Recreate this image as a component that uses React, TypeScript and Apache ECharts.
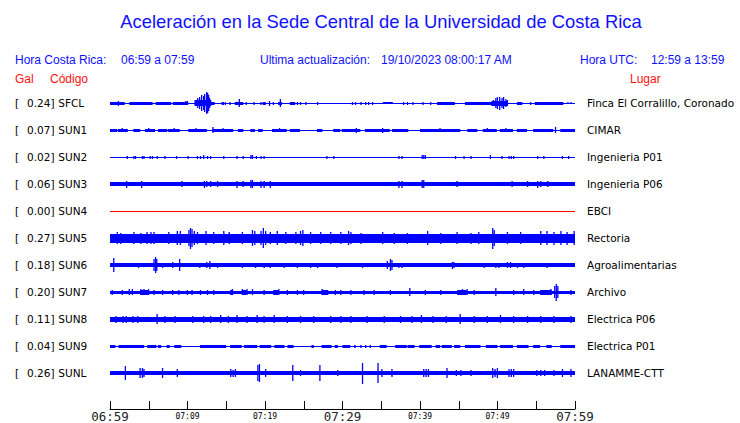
import React, { useEffect, useRef } from 'react';
import * as echarts from 'echarts';

// ---- station metadata ----
const CODES = ['SFCL', 'SUN1', 'SUN2', 'SUN3', 'SUN4', 'SUN5', 'SUN6', 'SUN7', 'SUN8', 'SUN9', 'SUNL'];
const GAL = [0.24, 0.07, 0.02, 0.06, 0.0, 0.27, 0.18, 0.2, 0.11, 0.04, 0.26];
const PLACES = [
  'Finca El Corralillo, Coronado', 'CIMAR', 'Ingenieria P01', 'Ingenieria P06', 'EBCI', 'Rectoria',
  'Agroalimentarias', 'Archivo', 'Electrica P06', 'Electrica P01', 'LANAMME-CTT',
];
// x-axis: minutes after 06:59; labels every 10 minutes
const TIME_LABELS = ['06:59', '07:09', '07:19', '07:29', '07:39', '07:49', '07:59'];

// ---- envelope data (relative amplitude, minutes since 06:59) ----
// continuous background level per trace
const BASE = [0.5, 0.5, 0.5, 2, 0.5, 4.5, 2, 1.5, 2.5, 0.5, 2];

// segments: [startMin, endMin, amplitude]
const SEG_SFCL = [
  [0, 1.9, 1.5], [2.5, 5.5, 1.5], [5.9, 7.9, 1.5], [8.1, 10.1, 1.5], [10.9, 12.9, 3], [12.9, 13.5, 1.5],
  [14.4, 14.7, 1.5], [16.1, 17.2, 1.5], [19.7, 20.1, 1.5], [21.7, 22.2, 1.5], [23.2, 23.9, 1.5],
  [35.2, 36.5, 1], [42.2, 44.5, 1.5], [45.8, 49.3, 1.5], [49.2, 51.3, 2.5], [52.5, 53.2, 1.5], [54.8, 58.5, 1.5],
];
const SEG_SUN1 = [
  [0, 0.9, 1.5], [1.0, 2.3, 1.5], [3.0, 3.9, 1.5], [4.5, 5.8, 1.5], [6.2, 7.4, 1.5], [7.5, 9.0, 1.5], [10.1, 12.5, 1.5],
  [13.2, 15.9, 1.5], [16.5, 17.2, 1.5], [18.1, 18.7, 1.5], [19.1, 19.7, 1.5], [20.9, 22.8, 1.5], [23.2, 24.5, 1.5],
  [26.7, 27.4, 1.5], [28.8, 29.7, 1.5], [29.9, 32.3, 1.5], [32.9, 36.1, 1.5], [36.4, 38.5, 1.5], [40.0, 45.2, 1.5],
  [46.1, 47.4, 1.5], [48.1, 49.9, 1.5], [50.3, 52.0, 1.5], [52.5, 53.8, 1.5], [54.6, 57.2, 1.5], [58.1, 60, 1.5],
];
const SEG_SUN7 = [
  [3.9, 4.9, 2.5], [15.5, 15.9, 2.5], [17.0, 17.6, 2.5], [21.1, 21.7, 2.5], [27.3, 28.0, 2.5],
  [44.8, 46.0, 2.5], [55.5, 57.0, 2.5],
];
const SEG_SUN9 = [
  [0, 0.7, 1.5], [1.1, 4.4, 1.5], [4.8, 6.0, 1.5], [6.2, 6.6, 1.5], [7.3, 7.7, 1.5], [8.3, 9.2, 1.5],
  [11.6, 15.0, 1.5], [15.5, 17.0, 1.5], [17.3, 19.0, 1.5], [19.3, 20.8, 1.5], [21.2, 22.5, 1.5],
  [22.9, 23.7, 1.5], [26.0, 26.3, 1.5], [27.3, 28.6, 1.5], [29.0, 29.4, 1.5], [30.0, 31.0, 1.5],
  [31.5, 31.7, 1.5], [34.8, 35.7, 1.5], [36.8, 38.3, 1.5], [38.4, 39.3, 1.5], [39.9, 41.5, 1.5],
  [42.0, 42.6, 1.5], [42.8, 44.1, 1.5], [44.4, 45.2, 1.5], [45.8, 47.8, 1.5], [48.5, 50.0, 1.5],
  [50.3, 52.0, 1.5], [52.5, 54.0, 1.5], [54.6, 55.5, 1.5], [56.3, 57.0, 1.5], [58.1, 60, 1.5],
];

// spikes: [minute, amplitude]
const SPK_SFCL = [
  [1.0, 2.5], [9.7, 2], [9.9, 2], [10.97, 3], [11.23, 5], [11.48, 6], [11.74, 8], [12.0, 7], [12.13, 9],
  [12.39, 11], [12.52, 10], [12.65, 8], [12.77, 5], [12.9, 3], [14.8, 1.5], [15.4, 1.5], [16.6, 4],
  [17.5, 1.5], [18.5, 1.5], [19.4, 1.5], [20.5, 2.5], [21.0, 1.5], [21.9, 4], [24.1, 1.5], [24.5, 1.5],
  [25.2, 1.5], [26.7, 1.5], [31.2, 1.5], [31.6, 1.5], [32.3, 1.5], [32.9, 1.5], [33.3, 1.5], [33.8, 1.5],
  [37.8, 1.5], [38.3, 1.5], [39.0, 1.5], [40.3, 1.5], [41.3, 1.5], [49.4, 3], [49.7, 5], [49.9, 6],
  [50.2, 6.5], [50.5, 5], [50.7, 6], [51.0, 4], [51.2, 3], [54.2, 1.5], [59.0, 1], [59.4, 1],
];
const SPK_SUN1 = [
  [1.5, 2], [4.9, 2], [8.2, 2], [11.0, 2], [13.2, 3], [14.5, 2], [21.8, 2], [31.7, 2.5], [35.1, 2.5],
  [42.5, 2], [48.6, 2], [51.0, 2], [57.4, 3],
];
const SPK_SUN2 = [
  [2.15, 1.5], [3.0, 1.5], [3.2, 1.5], [4.1, 1.5], [4.3, 1.5], [5.1, 1.5], [5.4, 1.5], [6.0, 1.5], [7.0, 1.5],
  [8.5, 1.5], [10.0, 1.5], [11.2, 1.5], [11.6, 1.5], [12.0, 2], [12.5, 1.5], [12.9, 1.5], [14.6, 1.5],
  [16.3, 1.5], [17.1, 1.5], [18.1, 2], [18.3, 2], [18.8, 1.5], [19.4, 1.5], [19.8, 1.5], [27.9, 1.5],
  [28.8, 1.5], [37.2, 1.5], [37.6, 1.5], [40.2, 2], [40.4, 2], [40.6, 2], [44.5, 1.5], [45.6, 1.5],
  [46.5, 1.5], [49.0, 2], [50.5, 1.5], [51.4, 1.5], [51.7, 1.5], [52.0, 1.5], [55.1, 1.5], [55.9, 1.5],
  [58.3, 1.5], [59.1, 1.5],
];
const SPK_SUN3 = [
  [2.06, 3.5], [4.0, 3.5], [9.2, 3], [12.1, 3.5], [12.4, 3], [12.9, 3], [13.8, 3], [16.3, 3.5], [17.1, 3],
  [18.1, 4], [18.3, 4], [19.4, 3.5], [19.8, 3.5], [20.6, 3.5], [37.2, 3.5], [37.6, 3.5], [40.2, 4],
  [40.4, 4], [44.7, 3], [51.8, 3], [53.8, 3], [55.1, 3.5], [55.5, 3], [56.4, 3],
];
const SPK_SUN4: number[][] = [];
const SPK_SUN5 = [
  [0.86, 6], [1.3, 5.5], [3.0, 6], [3.9, 5.5], [4.7, 6], [5.2, 6], [5.6, 6], [7.5, 6], [8.6, 7], [9.0, 7],
  [10.1, 8], [10.3, 10.5], [10.5, 9], [10.8, 7], [11.2, 6], [12.3, 7], [13.3, 6], [14.6, 7], [15.3, 6],
  [17.0, 6], [18.3, 8], [18.6, 7], [19.4, 7], [19.7, 10], [20.0, 7], [20.6, 6], [21.5, 7], [22.6, 6],
  [23.9, 6], [24.5, 7], [24.8, 8], [25.8, 6], [27.1, 6], [28.4, 6], [29.7, 6], [30.7, 7], [31.0, 6],
  [32.3, 5.5], [35.1, 6], [36.6, 5.5], [38.3, 5.5], [40.9, 7], [42.6, 5.5], [44.7, 6], [46.5, 5.5],
  [47.5, 6], [49.3, 10.5], [49.5, 8], [51.2, 6], [52.9, 6], [55.5, 7], [56.3, 7], [57.2, 6.5], [58.1, 7],
  [58.9, 6.5], [59.8, 7],
];
const SPK_SUN6 = [
  [0.4, 7], [3.6, 2.5], [5.6, 6], [5.8, 8], [5.95, 6], [6.7, 2.5], [8.0, 3], [8.9, 6], [11.5, 2.5],
  [12.4, 3], [12.8, 4], [13.8, 2.5], [17.0, 2.5], [18.7, 2.5], [19.8, 2.5], [20.6, 2.5], [22.4, 2.5],
  [24.1, 2.5], [25.8, 2.5], [26.7, 2.5], [29.2, 2.5], [32.5, 2.5], [35.7, 4], [36.1, 6], [36.3, 5],
  [37.2, 2.5], [37.6, 2.5], [40.2, 2], [44.1, 3.5], [44.3, 3], [48.2, 2.5], [49.7, 2.5], [50.1, 2.5],
  [51.2, 3], [51.6, 3], [52.5, 2.5], [53.3, 2.5], [56.3, 2.5],
];
const SPK_SUN7 = [
  [0.2, 2.5], [1.5, 2.5], [2.4, 3], [2.8, 3], [3.9, 3], [4.3, 3], [4.9, 3], [5.6, 2.5], [6.7, 2.5],
  [8.0, 2.5], [8.8, 2.5], [9.9, 2.5], [10.5, 2.5], [11.6, 2.5], [12.5, 2.5], [13.3, 2.5], [15.7, 3],
  [17.0, 3], [17.6, 3], [18.3, 3], [19.8, 2.5], [21.1, 2.5], [21.7, 3], [22.8, 2.5], [24.1, 2.5],
  [24.9, 2.5], [27.3, 3], [28.0, 2.5], [29.0, 2.5], [29.7, 2.5], [31.0, 2.5], [32.7, 2.5], [34.0, 2.5],
  [36.1, 2.5], [38.6, 4], [40.6, 2.5], [42.6, 2.5], [45.4, 3], [46.0, 3], [46.9, 2.5], [49.7, 4],
  [52.0, 2.5], [53.3, 3], [54.6, 2.5], [55.9, 2.5], [56.8, 3], [57.3, 6], [57.5, 8.5], [57.7, 6],
  [59.4, 2.5],
];
const SPK_SUN8 = [
  [0.7, 3.5], [1.6, 3.5], [2.0, 3.5], [2.9, 3.5], [3.5, 3.5], [6.0, 5], [7.0, 3.5], [8.3, 3.5],
  [10.6, 3.5], [12.0, 3.5], [12.9, 3.5], [14.2, 4], [15.2, 3.5], [16.3, 4], [17.6, 3.5], [18.9, 4],
  [19.8, 3.5], [21.1, 4], [22.8, 3.5], [24.5, 3.5], [26.2, 3.5], [28.4, 3.5], [29.7, 3.5], [31.0, 3.5],
  [33.1, 3.5], [35.3, 3.5], [37.4, 3.5], [38.9, 3.5], [40.1, 4], [41.6, 3.5], [43.3, 3.5], [45.1, 5],
  [46.9, 3.5], [48.6, 3.5], [50.3, 4], [52.0, 3.5], [53.8, 3.5], [55.5, 3.5], [57.2, 3.5], [59.4, 3.5],
];
const SPK_SUN9 = [[32.3, 1.5], [32.9, 1.5], [33.5, 1.5]];
const SPK_SUNL = [
  [1.9, 7], [3.8, 5], [4.1, 5], [4.3, 4], [6.7, 5], [8.6, 4], [15.5, 4], [15.8, 3.5], [16.1, 4],
  [19.0, 8], [19.2, 9], [20.0, 4], [23.5, 8], [24.5, 3], [27.0, 8], [29.3, 3], [32.5, 10.5], [34.5, 10],
  [35.0, 4], [36.3, 4], [40.4, 4], [40.7, 4], [41.0, 4], [43.4, 5], [44.6, 3], [45.2, 3], [46.5, 3],
  [49.3, 5], [49.6, 4], [49.9, 5], [51.4, 4], [51.7, 4], [52.0, 4], [55.0, 3], [55.5, 3], [56.0, 3],
  [57.2, 3], [58.3, 4], [59.4, 4],
];

const SEGMENTS = [SEG_SFCL, SEG_SUN1, [], [], [], [], [], SEG_SUN7, [], SEG_SUN9, []];
const SPIKES = [SPK_SFCL, SPK_SUN1, SPK_SUN2, SPK_SUN3, SPK_SUN4, SPK_SUN5, SPK_SUN6, SPK_SUN7, SPK_SUN8, SPK_SUN9, SPK_SUNL];
const TRACE_COLORS = ['#0000ff', '#0000ff', '#0000ff', '#0000ff', '#ff0000', '#0000ff', '#0000ff', '#0000ff', '#0000ff', '#0000ff', '#0000ff'];

const START = 0;
const END = 60;

function buildData() {
  const out: number[][] = [];
  for (let r = 0; r < CODES.length; r++) {
    out.push([START, END, r, BASE[r]]);
    for (const s of SEGMENTS[r]) out.push([s[0], s[1], r, s[2]]);
    for (const p of SPIKES[r]) out.push([p[0], p[0], r, p[1]]);
  }
  return out;
}

export default function App() {
  const ref = useRef<HTMLDivElement>(null);
  useEffect(() => {
    document.body.style.margin = '0';
    const chart = echarts.init(ref.current!, null, { renderer: 'svg' });
    const blue = '#1010ff';
    const red = '#ff1010';
    const hdr = '12px "Liberation Sans", Arial, sans-serif';
    const txt = (x: number, y: number, text: string, fill: string, font = hdr, align = 'left') => ({
      type: 'text', x, y, silent: true,
      style: { text, fill, font, textAlign: align, textVerticalAlign: 'middle' },
    });
    chart.setOption({
      animation: false,
      backgroundColor: '#ffffff',
      graphic: [
        txt(381, 21, 'Aceleración en la Sede Central de la Universidad de Costa Rica', blue, '18.4px "Liberation Sans", Arial, sans-serif', 'center'),
        txt(15, 60, 'Hora Costa Rica:', blue),
        txt(121, 60, `${TIME_LABELS[0]} a ${TIME_LABELS[TIME_LABELS.length - 1]}`, blue),
        txt(260, 60, 'Ultima actualización:', blue),
        txt(381, 60, '19/10/2023 08:00:17 AM', blue),
        txt(580, 60, 'Hora UTC:', blue),
        txt(651, 60, '12:59 a 13:59', blue),
        txt(15, 79, 'Gal', red),
        txt(50, 79, 'Código', red),
        txt(630, 79, 'Lugar', red),
      ],
      grid: { left: 110, right: 165, top: 89.5, bottom: 36.5, containLabel: false },
      xAxis: {
        type: 'value', min: START, max: END, interval: 5, offset: 22.5,
        axisLine: { show: true, lineStyle: { color: '#000', width: 1 } },
        axisTick: { show: true, inside: true, length: 8, lineStyle: { color: '#000', width: 1 } },
        splitLine: { show: false },
        axisLabel: {
          margin: 1,
          showMinLabel: true, showMaxLabel: true,
          formatter: (v: number) => {
            if (v % 10 !== 0) return '';
            const lab = TIME_LABELS[v / 10];
            return v % 30 === 0 ? `{big|${lab}}` : `{small|${lab}}`;
          },
          rich: {
            big: { fontSize: 12.5, fontFamily: '"DejaVu Sans Mono", monospace', color: '#222' },
            small: { fontSize: 8, fontFamily: '"DejaVu Sans Mono", monospace', color: '#000', padding: [2, 0, 0, 0] },
          },
        },
      },
      yAxis: [
        {
          type: 'category', inverse: true,
          data: CODES.map((c, i) => `{b|[}{v|${GAL[i].toFixed(2)}]} {c|${c}}`),
          axisLine: { show: false }, axisTick: { show: false }, splitLine: { show: false },
          axisLabel: {
            interval: 0, align: 'left', margin: 95, color: '#000',
            fontSize: 10.5, fontFamily: '"DejaVu Sans", sans-serif',
            rich: {
              b: { width: 12, fontSize: 10.5, fontFamily: '"DejaVu Sans", sans-serif', color: '#000' },
              v: { width: 28, fontSize: 10.5, fontFamily: '"DejaVu Sans", sans-serif', color: '#000' },
              c: { fontSize: 10.5, fontFamily: '"DejaVu Sans", sans-serif', color: '#000' },
            },
          },
        },
        {
          type: 'category', inverse: true, position: 'right', data: PLACES,
          axisLine: { show: false }, axisTick: { show: false }, splitLine: { show: false },
          axisLabel: {
            interval: 0, align: 'left', margin: 12, color: '#000',
            fontSize: 10.5, fontFamily: '"DejaVu Sans", sans-serif',
          },
        },
      ],
      series: [
        {
          type: 'custom',
          xAxisIndex: 0, yAxisIndex: 0,
          encode: { x: [0, 1], y: 2 },
          data: buildData(),
          renderItem: (params: any, api: any) => {
            const t0 = api.value(0);
            const t1 = api.value(1);
            const row = api.value(2);
            const amp = api.value(3);
            const p0 = api.coord([t0, row]);
            const p1 = api.coord([t1, row]);
            const band = api.size([0, 1])[1];
            const h = (amp * band) / 27;
            const x0 = p0[0];
            const x1 = Math.max(p1[0], x0 + 1.3);
            let y0 = Math.round(p0[1] - h);
            let y1 = Math.round(p0[1] + h);
            if (y1 - y0 < 1) y1 = y0 + 1;
            return {
              type: 'rect',
              shape: { x: x0, y: y0, width: x1 - x0, height: y1 - y0 },
              style: { fill: TRACE_COLORS[row] },
            };
          },
        },
      ],
    });
    return () => chart.dispose();
  }, []);
  return <div ref={ref} style={{ position: 'fixed', left: 0, top: 0, width: 740, height: 423 }} />;
}
